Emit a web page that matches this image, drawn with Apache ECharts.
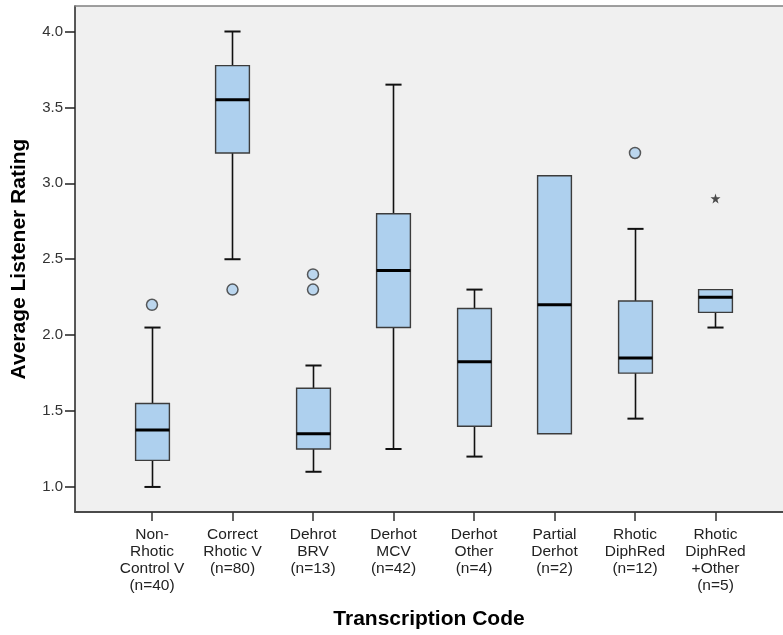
<!DOCTYPE html>
<html><head><meta charset="utf-8">
<script src="https://cdn.jsdelivr.net/npm/echarts@6/dist/echarts.min.js"></script>
<style>html,body{margin:0;padding:0;background:#fff}#c{width:783px;height:635px}</style>
</head><body><div id="c"></div>
<script>
const categories = [
  "Non-\nRhotic\nControl V\n(n=40)",
  "Correct\nRhotic V\n(n=80)",
  "Dehrot\nBRV\n(n=13)",
  "Derhot\nMCV\n(n=42)",
  "Derhot\nOther\n(n=4)",
  "Partial\nDerhot\n(n=2)",
  "Rhotic\nDiphRed\n(n=12)",
  "Rhotic\nDiphRed\n+Other\n(n=5)"
];
const lowWhisker  = [1.00, 2.50, 1.10, 1.25, 1.20, 1.35, 1.45, 2.05];
const q1          = [1.175, 3.20, 1.25, 2.05, 1.40, 1.35, 1.75, 2.15];
const median      = [1.375, 3.55, 1.35, 2.425, 1.825, 2.20, 1.85, 2.25];
const q3          = [1.55, 3.775, 1.65, 2.80, 2.175, 3.05, 2.225, 2.30];
const highWhisker = [2.05, 4.00, 1.80, 3.65, 2.30, 3.05, 2.70, 2.30];
const outlierCat = [0, 1, 2, 2, 6];
const outlierVal = [2.2, 2.3, 2.4, 2.3, 3.2];
const extremeCat = [7];
const extremeVal = [2.9];
const yTicks = [1.0, 1.5, 2.0, 2.5, 3.0, 3.5, 4.0];
const xTicks = categories.map((c, i) => i);

const boxData = categories.map((c, i) => [i, lowWhisker[i], q1[i], median[i], q3[i], highWhisker[i]]);
const outlierData = outlierCat.map((c, k) => [c, outlierVal[k]]);
const extremeData = extremeCat.map((c, k) => [c, extremeVal[k]]);

function renderBox(params, api) {
  const i = api.value(0);
  const lo = api.value(1), a = api.value(2), m = api.value(3), b = api.value(4), hi = api.value(5);
  const boxW = api.size([0.42, 0])[0];
  const capW = api.size([0.2, 0])[0];
  const pLo = api.coord([i, lo]), pA = api.coord([i, a]), pM = api.coord([i, m]), pB = api.coord([i, b]), pHi = api.coord([i, hi]);
  const x = Math.round(pA[0]) + 0.5;
  const ch = [];
  const wStyle = { stroke: '#111', lineWidth: 1.6 };
  const cStyle = { stroke: '#111', lineWidth: 2 };
  if (hi > b) {
    ch.push({ type: 'line', shape: { x1: x, y1: pB[1], x2: x, y2: pHi[1] }, style: wStyle });
    ch.push({ type: 'line', shape: { x1: x - capW / 2, y1: pHi[1], x2: x + capW / 2, y2: pHi[1] }, style: cStyle });
  }
  if (lo < a) {
    ch.push({ type: 'line', shape: { x1: x, y1: pA[1], x2: x, y2: pLo[1] }, style: wStyle });
    ch.push({ type: 'line', shape: { x1: x - capW / 2, y1: pLo[1], x2: x + capW / 2, y2: pLo[1] }, style: cStyle });
  }
  ch.push({ type: 'rect', shape: { x: x - boxW / 2, y: pB[1], width: boxW, height: pA[1] - pB[1] },
    style: { fill: '#aed0ee', stroke: '#3c3c3c', lineWidth: 1.4 } });
  ch.push({ type: 'line', shape: { x1: x - boxW / 2, y1: pM[1], x2: x + boxW / 2, y2: pM[1] },
    style: { stroke: '#000', lineWidth: 3 } });
  return { type: 'group', children: ch };
}

const FONT = 'Liberation Sans, Arial, sans-serif';
const xMin = -0.9565, xMax = -0.9565 + 708 / 80.5;
const chart = echarts.init(document.getElementById('c'), null, { renderer: 'canvas' });
chart.setOption({
  animation: false,
  backgroundColor: '#ffffff',
  grid: { left: 75, top: 6, right: 0, bottom: 122, show: true, backgroundColor: '#f0f0f0', borderWidth: 0, borderColor: 'rgba(0,0,0,0)', containLabel: false },
  xAxis: [{
    type: 'value', min: xMin, max: xMax, position: 'bottom',
    splitLine: { show: false },
    axisLine: { show: true, onZero: false, lineStyle: { color: '#4a4a4a', width: 2 } },
    axisTick: { show: true, customValues: xTicks, length: 9, lineStyle: { color: '#333', width: 1.5 } },
    axisLabel: { customValues: xTicks, formatter: v => categories[Math.round(v)], fontFamily: FONT, fontSize: 15.5, lineHeight: 17, color: '#222', margin: 14, align: 'center' },
    name: 'Transcription Code', nameLocation: 'middle', nameGap: 97,
    nameTextStyle: { fontFamily: FONT, fontWeight: 'bold', fontSize: 21, color: '#000' }
  }, {
    type: 'value', min: xMin, max: xMax, position: 'top',
    splitLine: { show: false },
    axisLine: { show: true, onZero: false, lineStyle: { color: '#808080', width: 1.5 } },
    axisTick: { show: false }, axisLabel: { show: false }
  }],
  yAxis: {
    type: 'value', min: 0.835, max: 4.168,
    splitLine: { show: false },
    axisLine: { show: true, onZero: false, lineStyle: { color: '#222', width: 1.5 } },
    axisTick: { show: true, inside: false, customValues: yTicks, length: 10, lineStyle: { color: '#222', width: 1.5 } },
    axisLabel: { customValues: yTicks, formatter: v => v.toFixed(1), fontFamily: FONT, fontSize: 15, color: '#333', margin: 12 },
    name: 'Average Listener Rating', nameLocation: 'middle', nameGap: 45,
    nameTextStyle: { fontFamily: FONT, fontWeight: 'bold', fontSize: 21, color: '#000' }
  },
  series: [
    { type: 'custom', renderItem: renderBox, data: boxData, encode: { x: 0, y: [1, 2, 3, 4, 5] }, z: 2 },
    { type: 'scatter', data: outlierData, symbol: 'circle', symbolSize: 11,
      itemStyle: { color: '#aed0ee', borderColor: '#333', borderWidth: 1.5 }, z: 3 },
    { type: 'scatter', data: extremeData, symbol: 'path://M50,0 L61,35 L98,35 L68,57 L79,91 L50,70 L21,91 L32,57 L2,35 L39,35 Z',
      symbolSize: 10, itemStyle: { color: '#222' }, z: 3 }
  ]
});
</script>
</body></html>
